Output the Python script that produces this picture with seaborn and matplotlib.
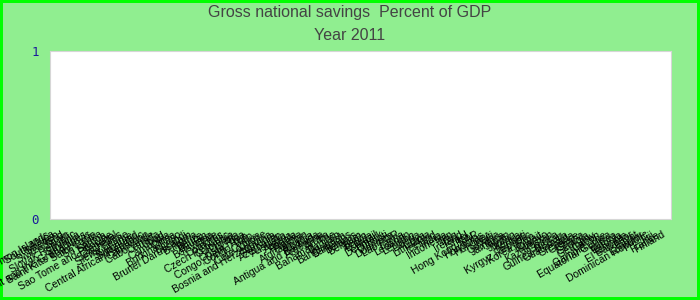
import matplotlib
matplotlib.use("Agg")
import matplotlib.pyplot as plt
import matplotlib.transforms as mtransforms
import seaborn as sns
import pandas as pd

title_line1 = "Gross national savings  Percent of GDP"
title_line2 = "Year 2011"

countries = [
    "Solomon Islands", "South Africa", "Sweden", "Switzerland", "Spain",
    "Slovak Republic", "Slovenia", "St. Vincent and the Grenadines",
    "Saint Kitts and Nevis", "Saint Lucia", "Sri Lanka", "Samoa",
    "Sao Tome and Principe", "Senegal", "Seychelles", "Sierra Leone",
    "Suriname", "Swaziland",
    "Central African Republic", "Cameroon", "Cabo Verde", "Canada", "Chad",
    "Cambodia", "China", "Burkina Faso", "Burundi", "Brunei Darussalam",
    "Bulgaria", "Belize", "Bhutan", "Botswana", "Chile", "Comoros",
    "Czech Republic", "Colombia", "Croatia", "Costa Rica", "Congo, Dem. Rep.",
    "Congo, Rep.", "Cyprus", "Cote d'Ivoire", "Bosnia and Herzegovina",
    "Armenia", "Azerbaijan", "Australia", "Austria", "Angola", "Algeria",
    "Afghanistan", "Albania", "Antigua and Barbuda", "Argentina", "Aruba",
    "Bahamas, The", "Bahrain", "Bangladesh", "Barbados", "Belarus", "Belgium",
    "Benin", "Bolivia", "Brazil", "Denmark", "Djibouti", "Dominica",
    "Lao PDR", "Latvia", "Lebanon", "Lesotho", "Liberia", "Libya",
    "Lithuania", "Iceland", "India", "Indonesia", "Iran", "Iraq", "Ireland",
    "Israel", "Italy", "Hong Kong SAR", "Honduras", "Hungary", "Haiti",
    "Guyana", "Jamaica", "Japan", "Jordan", "Kenya", "Kiribati",
    "Kyrgyz Republic", "Korea, Rep.", "Kuwait", "Kosovo", "Kazakhstan",
    "Guinea", "Guinea-Bissau", "Guatemala", "Grenada", "Greece", "Ghana",
    "Georgia", "Germany", "Gabon", "Gambia, The", "Equatorial Guinea",
    "Eritrea", "Estonia", "Ethiopia", "El Salvador", "Egypt", "Ecuador",
    "Dominican Republic", "Fiji", "France", "Finland",
]

savings = [
    0, 0, 0, 0, 0, 0, 0, 0, 0, 0, 0, 0, 0, 0, 0, 0, 0, 0, 0, 0,
    0, 0, 0, 0, 0, 0, 0, 0, 0, 0, 0, 0, 0, 0, 0, 0, 0, 0, 0, 0,
    0, 0, 0, 0, 0, 0, 0, 0, 0, 0, 0, 0, 0, 0, 0, 0, 0, 0, 0, 0,
    0, 0, 0, 0, 0, 0, 0, 0, 0, 0, 0, 0, 0, 0, 0, 0, 0, 0, 0, 0,
    0, 0, 0, 0, 0, 0, 0, 0, 0, 0, 0, 0, 0, 0, 0, 0, 0, 0, 0, 0,
    0, 0, 0, 0, 0, 0, 0, 0, 0, 0, 0, 0, 0, 0, 0, 0, 0,
]

y_ticks = [0, 1]
y_ticklabels = ["0", "1"]

df = pd.DataFrame({"country": countries, "value": savings})

sns.set_theme(style="white")
plt.rcParams["font.family"] = ["Liberation Sans", "DejaVu Sans"]

BG = "#90ee90"
fig = plt.figure(figsize=(7, 3), dpi=100)
fig.patch.set_facecolor(BG)
fig.patch.set_edgecolor("#00ff00")
fig.patch.set_linewidth(3)

ax = fig.add_axes([50 / 700, 1 - 219 / 300, 621 / 700, 168 / 300])
ax.set_facecolor("white")

sns.barplot(data=df, x="country", y="value", ax=ax, color="#1f77b4",
            errorbar=None, linewidth=0)

ax.set_ylim(0, 1)
ax.set_yticks(y_ticks)
ax.set_yticklabels(y_ticklabels, family="DejaVu Sans Mono", fontsize=9,
                   color="#1a1a9a")
ax.set_xlabel("")
ax.set_ylabel("")
ax.tick_params(axis="both", length=0)
ax.tick_params(axis="y", pad=8)
ax.tick_params(axis="x", pad=12.5)

for lab in ax.get_xticklabels():
    lab.set_rotation(30)
    lab.set_ha("right")
    lab.set_va("baseline")
    lab.set_rotation_mode("anchor")
    lab.set_fontsize(7.5)
    lab.set_color("black")
    lab.set_transform(lab.get_transform() +
                      mtransforms.ScaledTranslation(-3 / 100, 0, fig.dpi_scale_trans))

for s in ax.spines.values():
    s.set_visible(True)
    s.set_color("#d6d6d6")
    s.set_linewidth(0.8)

fig.text(0.5, 1 - 12 / 300, title_line1, ha="center", va="center",
         fontsize=11.5, color="#444444")
fig.text(0.5, 1 - 36 / 300, title_line2, ha="center", va="center",
         fontsize=11.5, color="#444444")

fig.savefig("out.png", dpi=100, facecolor=fig.get_facecolor(),
            edgecolor=fig.get_edgecolor())
